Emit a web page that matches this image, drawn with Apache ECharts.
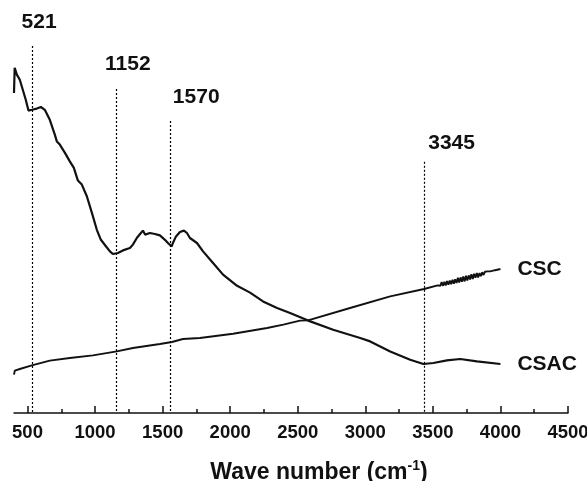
<!DOCTYPE html>
<html>
<head>
<meta charset="utf-8">
<script src="https://cdn.jsdelivr.net/npm/echarts@6/dist/echarts.min.js"></script>
<style>
html,body{margin:0;padding:0;background:#fff;}
#c{width:587px;height:481px;}
</style>
</head>
<body>
<div id="c"></div>
<script>
// ---- data (arbitrary transmittance units) ----
const seriesNames = ['CSC', 'CSAC'];
const csacPoints = [[400,80.0],[405,86.3],[410,86.0],[421,84.6],[443,83.3],[465,80.8],[487,78.3],[507,75.6],[532,75.8],[569,76.1],[599,76.5],[628,75.8],[665,73.3],[702,69.6],[717,67.9],[739,67.1],[776,65.1],[813,62.9],[843,61.3],[873,58.1],[902,57.1],[939,54.2],[976,50.1],[1013,45.8],[1043,43.3],[1080,41.7],[1110,40.4],[1132,39.75],[1169,40.0],[1206,40.65],[1258,41.25],[1280,42.1],[1310,43.8],[1339,45.0],[1354,45.6],[1370,44.6],[1384,45.0],[1406,45.0],[1443,44.75],[1480,44.4],[1517,43.3],[1539,42.5],[1567,41.65],[1576,42.5],[1599,44.15],[1628,45.25],[1658,45.6],[1680,45.0],[1702,43.75],[1754,42.5],[1799,40.4],[1873,37.5],[1947,34.6],[2051,31.8],[2147,30.1],[2243,27.9],[2347,26.25],[2443,25.0],[2577,23.1],[2762,20.8],[2962,18.75],[3036,17.9],[3184,15.4],[3332,13.3],[3430,12.25],[3504,12.5],[3604,13.15],[3702,13.5],[3826,12.9],[4000,12.25]];
const cscPoints = [[400,9.6],[406,10.6],[443,11.0],[532,11.9],[665,13.1],[813,13.75],[984,14.4],[1161,15.4],[1280,16.25],[1480,17.25],[1569,17.75],[1650,18.5],[1776,18.75],[2021,19.8],[2273,21.25],[2393,22.1],[2517,23.1],[2576,23.15],[2887,26.25],[3184,29.15],[3435,31.0],[3535,31.9],[3545,32.3],[3555,31.8],[3565,32.7],[3575,31.8],[3585,32.8],[3595,31.9],[3605,33.0],[3615,32.1],[3625,33.1],[3635,32.2],[3645,33.3],[3655,32.3],[3665,33.4],[3675,32.5],[3685,33.8],[3695,32.6],[3705,33.9],[3715,32.8],[3725,34.1],[3735,32.9],[3745,34.3],[3755,33.1],[3765,34.4],[3775,33.4],[3785,34.7],[3795,33.5],[3805,34.8],[3815,33.8],[3825,35.0],[3835,33.9],[3845,35.0],[3855,34.2],[3865,35.2],[3875,34.5],[3885,35.3],[3895,34.8],[3905,35.4],[3925,35.4],[3960,35.7],[4000,36.0]];
const markWaves = [534, 1154, 1556, 3435];
const markTops = [91.75, 81.0, 73.0, 62.8];
const markLabels = ['521', '1152', '1570', '3345'];
const majorTicks = [500, 1000, 1500, 2000, 2500, 3000, 3500, 4000, 4500];
const minorTicks = [750, 1250, 1750, 2250, 2750, 3250, 3750, 4250];

// ---- styling / layout ----
const FONT = '"Liberation Sans", Arial, sans-serif';
const labelOffsets = [[7, -24], [12, -25], [26, -24], [27.5, -18.5]];

const chart = echarts.init(document.getElementById('c'), null, {renderer: 'canvas'});
const xBase = {type: 'value', min: 400, max: 4500, gridIndex: 0, splitLine: {show: false}};

chart.setOption({
  animation: false,
  backgroundColor: '#fff',
  grid: {left: 14, right: 19, top: 13, bottom: 68, containLabel: false, outerBoundsMode: 'none'},
  xAxis: [
    Object.assign({}, xBase, {
      position: 'bottom',
      axisLine: {show: true, lineStyle: {color: '#111', width: 1.5}},
      axisTick: {show: true, inside: true, length: 7, customValues: majorTicks, lineStyle: {color: '#111', width: 1.5}},
      axisLabel: {show: true, customValues: majorTicks, formatter: v => String(v), margin: 10, color: '#111', fontSize: 18.5, fontWeight: 'bold', fontFamily: FONT},
      name: '{t|Wave number (cm}{s|-1}{t|)}',
      nameLocation: 'middle',
      nameGap: 46,
      nameTextStyle: {
        padding: [0, 0, 0, 56],
        rich: {
          t: {fontSize: 23, fontWeight: 'bold', fontFamily: FONT, color: '#111', lineHeight: 27},
          s: {fontSize: 14, fontWeight: 'bold', fontFamily: FONT, color: '#111', verticalAlign: 'top', lineHeight: 14}
        }
      }
    }),
    Object.assign({}, xBase, {
      position: 'bottom',
      axisLine: {show: false},
      axisTick: {show: true, inside: true, length: 4, customValues: minorTicks, lineStyle: {color: '#111', width: 1.5}},
      axisLabel: {show: false}
    })
  ],
  yAxis: {type: 'value', min: 0, max: 100, show: false, splitLine: {show: false}},
  series: [
    {
      name: seriesNames[0], type: 'line', data: cscPoints, showSymbol: false, clip: false,
      lineStyle: {color: '#111', width: 1.9},
      endLabel: {show: true, formatter: '{a}', distance: 17, color: '#111', fontSize: 21, fontWeight: 'bold', fontFamily: FONT}
    },
    {
      name: seriesNames[1], type: 'line', data: csacPoints, showSymbol: false, clip: false,
      lineStyle: {color: '#111', width: 2.2},
      endLabel: {show: true, formatter: '{a}', distance: 17, color: '#111', fontSize: 21, fontWeight: 'bold', fontFamily: FONT},
      markLine: {
        silent: true, symbol: ['none', 'none'],
        label: {show: false},
        lineStyle: {color: '#000', width: 1.2, type: [2, 2]},
        data: markWaves.map((w, i) => [{coord: [w, markTops[i]]}, {coord: [w, 0]}])
      },
      markPoint: {
        silent: true, symbol: 'rect', symbolSize: 1,
        itemStyle: {color: 'rgba(0,0,0,0)'},
        label: {show: true, position: 'inside', formatter: '{b}', color: '#111', fontSize: 21, fontWeight: 'bold', fontFamily: FONT},
        data: markWaves.map((w, i) => ({name: markLabels[i], coord: [w, markTops[i]], label: {offset: labelOffsets[i]}}))
      }
    }
  ]
});
</script>
</body>
</html>
